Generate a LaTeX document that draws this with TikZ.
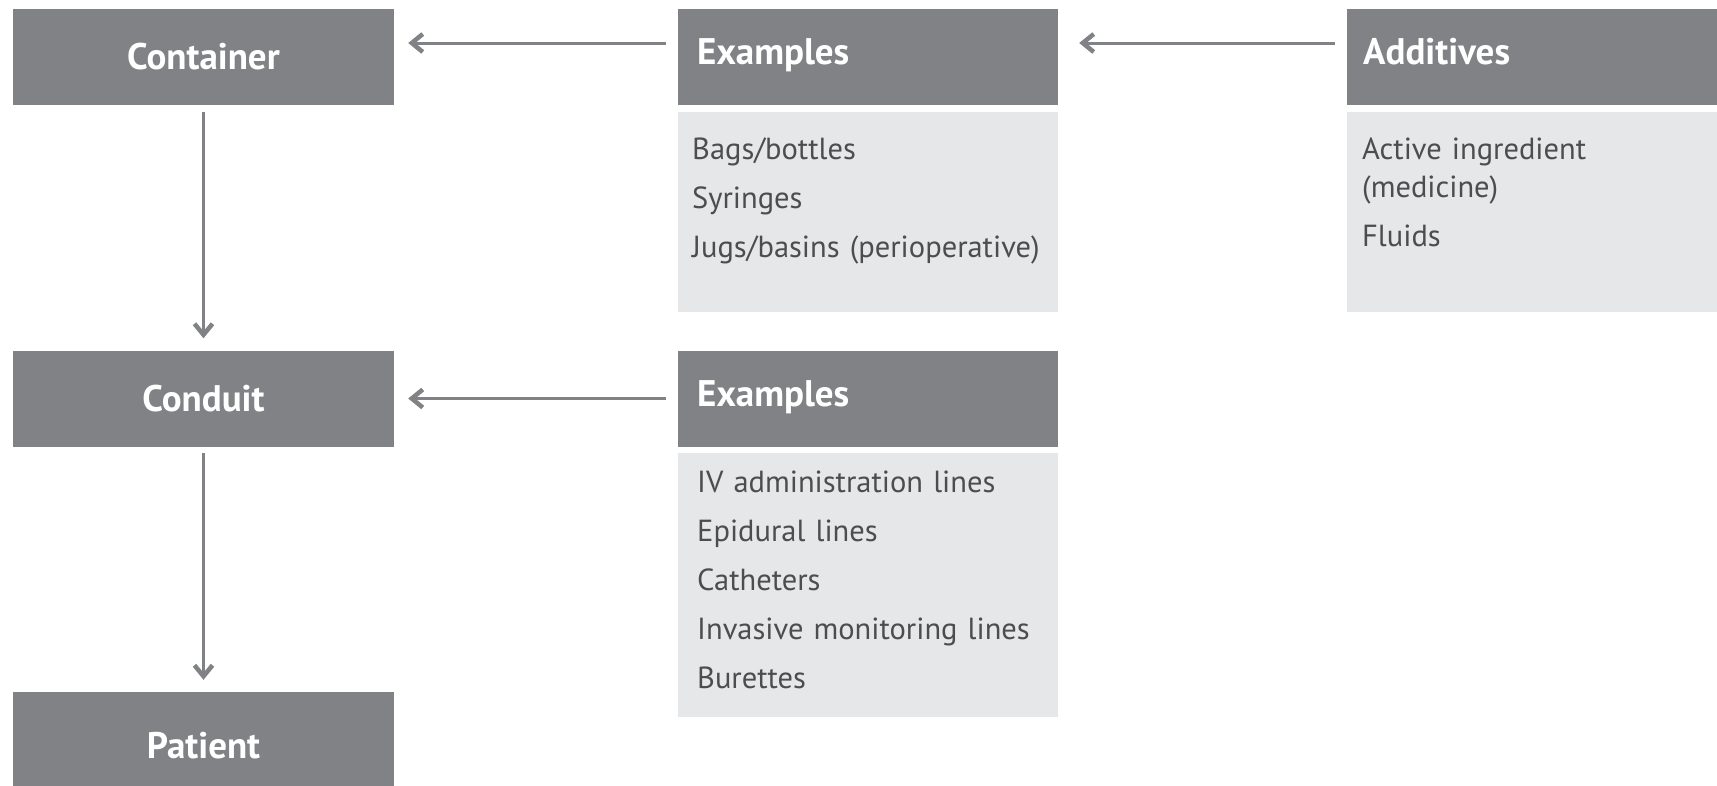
\documentclass[tikz,border=0pt]{standalone}
\usepackage{fontspec}
\setmainfont{PT Sans}
\usetikzlibrary{arrows.meta}
\definecolor{hdrgray}{HTML}{808285}
\definecolor{bodygray}{HTML}{E6E7E8}
\definecolor{txtgray}{HTML}{4D4D4F}
\newcommand\hdrfont{\fontsize{37}{42}\selectfont\bfseries}
\newcommand\bodyfont{\fontsize{30.5}{38}\selectfont}
\begin{document}
\begin{tikzpicture}[x=1pt,y=-1pt,
  hdrbox/.style={fill=hdrgray, draw=none, minimum width=381pt, minimum height=96pt, inner sep=0pt, text=white, font=\hdrfont},
  bodybox/.style={fill=bodygray, draw=none, minimum width=380pt, inner sep=0pt},
  hdrtxt/.style={text=white, font=\hdrfont, inner sep=0pt},
  bodytxt/.style={text=txtgray, font=\bodyfont, inner sep=0pt, align=left, text width=370pt},
  arr/.style={draw=hdrgray, line width=3pt, -{Straight Barb[length=11pt,width=18pt,line width=4.5pt]}}]
\useasboundingbox (0,0) rectangle (1717,785);
% left column
\node[hdrbox] (cont) at (203.5,57) {Container};
\node[hdrbox] (cond) at (203.5,398.5) {Conduit};
\node[hdrbox, minimum height=107pt] (pat) at (203.5,745.5) {Patient};
% examples 1
\node[hdrbox, minimum width=380pt] (ex1h) at (868,57) {};
\node[hdrtxt, anchor=base west] (ex1t) at (697,64) {Examples};
\node[bodybox, minimum height=200pt] (ex1b) at (868,212) {};
\node[bodytxt, anchor=base west] (ex1l) at (692,159) {Bags/bottles\\[11pt]Syringes\\[11pt]Jugs/basins (perioperative)};
% additives
\node[hdrbox, minimum width=383pt] (addh) at (1538.5,57) {};
\node[hdrtxt, anchor=base west] (addt) at (1363,64) {Additives};
\node[bodybox, minimum width=383pt, minimum height=200pt] (addb) at (1538.5,212) {};
\node[bodytxt, anchor=base west] (addl) at (1362,159) {Active ingredient\\(medicine)\\[11pt]Fluids};
% examples 2
\node[hdrbox, minimum width=380pt] (ex2h) at (868,398.5) {};
\node[hdrtxt, anchor=base west] (ex2t) at (697,406) {Examples};
\node[bodybox, minimum height=264pt] (ex2b) at (868,585) {};
\node[bodytxt, anchor=base west] (ex2l) at (697,492) {IV administration lines\\[11pt]Epidural lines\\[11pt]Catheters\\[11pt]Invasive monitoring lines\\[11pt]Burettes};
% connectors
\draw[arr] ([xshift=-12pt,yshift=14pt]ex1h.west) -- ([xshift=14pt,yshift=14pt]cont.east);
\draw[arr] ([xshift=-12pt,yshift=14pt]addh.west) -- ([xshift=21pt,yshift=14pt]ex1h.east);
\draw[arr] ([xshift=-12pt]ex2h.west) -- ([xshift=14pt]cond.east);
\draw[arr] ([yshift=-7pt]cont.south) -- ([yshift=12pt]cond.north);
\draw[arr] ([yshift=-6pt]cond.south) -- ([yshift=12pt]pat.north);
\end{tikzpicture}
\end{document}
